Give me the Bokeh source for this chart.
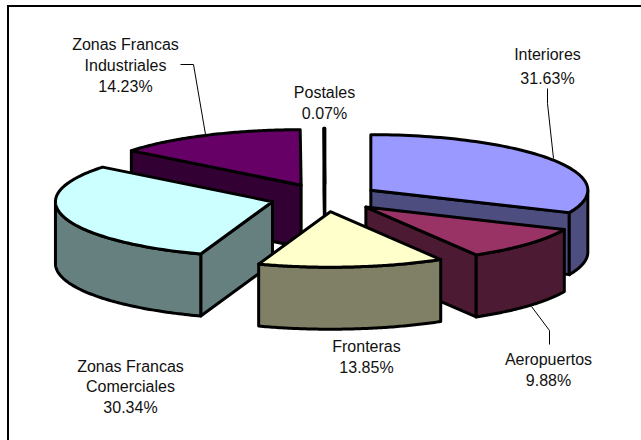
import numpy as np
from bokeh.plotting import figure
from bokeh.models import Range1d
from bokeh.core.properties import value
from bokeh.embed import file_html
from bokeh.resources import INLINE

# data, clockwise from 12 o'clock
categories = ["Interiores", "Aeropuertos", "Fronteras", "Zonas Francas Comerciales",
              "Zonas Francas Industriales", "Postales"]
shares = [31.63, 9.88, 13.85, 30.34, 14.23, 0.07]
label_lines = [["Interiores", "31.63%"], ["Aeropuertos", "9.88%"], ["Fronteras", "13.85%"],
               ["Zonas Francas", "Comerciales", "30.34%"],
               ["Zonas Francas", "Industriales", "14.23%"], ["Postales", "0.07%"]]
top_colors = ["#9999FF", "#993366", "#FFFFCC", "#CCFFFF", "#660066", "#FFFFFF"]
side_colors = ["#4D4D80", "#4D1A33", "#808066", "#668080", "#330033", "#808080"]

# layout (pixels)
CX, CY = 324.5, 197.3
RX, RY, DEPTH = 217.0, 55.5, 62.0
EXPLODE = 0.252
DRAW_ORDER = [4, 5, 0, 1, 3, 2]
LABEL_X = [547, 548, 366, 130, 125, 324]
LABEL_Y = [[54, 78], [359, 380], [346, 367], [366, 386, 407], [44, 65, 86], [92, 113]]
LEADERS = [([180, 193, 205], [64, 64, 134]),
           ([547, 547, 553], [88, 103, 158]),
           ([531, 549, 549], [306, 330, 344])]

p = figure(width=641, height=440, output_backend="svg", toolbar_location=None,
           x_range=Range1d(0, 641), y_range=Range1d(440, 0), min_border=0,
           margin=0, outline_line_color=None, background_fill_color="white")
p.xaxis.visible = False
p.yaxis.visible = False
p.grid.visible = False

p.line([7.5, 7.5], [440, 5.5], line_color="black", line_width=2)
p.line([6.5, 641], [5.5, 5.5], line_color="black", line_width=2)

edges = np.radians(np.concatenate([[0], np.cumsum(shares)]) * 3.6)


def pt(ax, ay, t):
    return ax + RX * np.sin(t), ay - RY * np.cos(t)


LW = 3
for i in DRAW_ORDER:
    a, b = edges[i], edges[i + 1]
    m = (a + b) / 2
    ax, ay = CX + EXPLODE * RX * np.sin(m), CY - EXPLODE * RY * np.cos(m)
    ts = np.linspace(a, b, 80)
    ox, oy = pt(ax, ay, ts)
    # visible cut face
    for t, vis in ((a, np.pi <= a < 2 * np.pi), (b, 0 < b <= np.pi)):
        if vis:
            ex, ey = pt(ax, ay, t)
            p.patch([ax, ex, ex, ax], [ay, ey, ey + DEPTH, ay + DEPTH], fill_color=side_colors[i],
                    line_color="black", line_width=LW, line_join="round")
    # outer wall, front half only
    lo, hi = max(a, np.pi / 2), min(b, 3 * np.pi / 2)
    if hi > lo:
        tw = np.linspace(lo, hi, 80)
        wx, wy = pt(ax, ay, tw)
        p.patch(np.r_[wx, wx[::-1]], np.r_[wy, wy[::-1] + DEPTH], fill_color=side_colors[i],
                line_color="black", line_width=LW, line_join="round")
    # top
    p.patch(np.r_[ax, ox], np.r_[ay, oy], fill_color=top_colors[i],
            line_color="black", line_width=LW, line_join="round")

for xs, ys in LEADERS:
    p.line(xs, ys, line_color="black", line_width=1)

for lines, x, ys in zip(label_lines, LABEL_X, LABEL_Y):
    p.text([x] * len(lines), ys, text=lines, text_font=value("Liberation Sans"),
           text_font_size="16px", text_align="center", text_baseline="middle", text_color="#111111")

open("out.html", "w").write(file_html(p, INLINE))
